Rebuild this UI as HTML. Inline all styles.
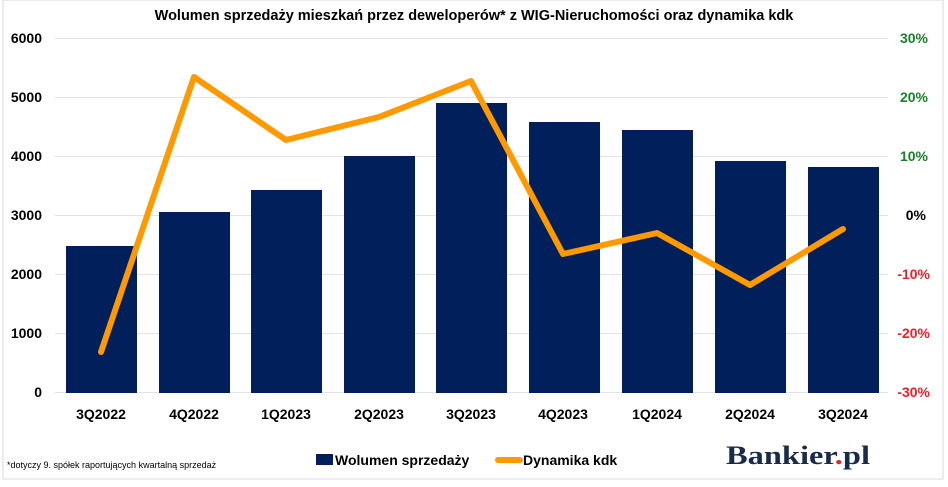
<!DOCTYPE html>
<html><head><meta charset="utf-8"><style>
body{margin:0;background:#fff;}
svg{display:block;font-family:"Liberation Sans",sans-serif;font-weight:bold;}
</style></head><body>
<svg width="948" height="487" viewBox="0 0 948 487">
<rect x="3" y="0" width="940" height="479" fill="#fff" stroke="#d9d9d9" stroke-width="1"/>
<text x="474" y="20" text-anchor="middle" font-size="14.5" fill="#000">Wolumen sprzedaży mieszkań przez deweloperów* z WIG-Nieruchomości oraz dynamika kdk</text>
<g stroke="#e3e3e3" stroke-width="1">
<line x1="55" x2="888" y1="38.5" y2="38.5"/><line x1="55" x2="888" y1="97.5" y2="97.5"/>
<line x1="55" x2="888" y1="156.5" y2="156.5"/><line x1="55" x2="888" y1="215.5" y2="215.5"/>
<line x1="55" x2="888" y1="274.5" y2="274.5"/><line x1="55" x2="888" y1="333.5" y2="333.5"/>
<line x1="55" x2="888" y1="392.5" y2="392.5"/>
</g>
<g font-size="14" fill="#000" text-anchor="end">
<text x="42" y="43">6000</text><text x="42" y="102">5000</text><text x="42" y="161">4000</text>
<text x="42" y="220">3000</text><text x="42" y="279">2000</text><text x="42" y="338">1000</text><text x="42" y="397">0</text>
</g>
<g font-size="14" text-anchor="end">
<text x="928" y="43" fill="#1a7f2a">30%</text><text x="928" y="102" fill="#1a7f2a">20%</text>
<text x="928" y="161" fill="#1a7f2a">10%</text><text x="926" y="220" fill="#000">0%</text>
<text x="930" y="279" fill="#e8202a">-10%</text><text x="930" y="338" fill="#e8202a">-20%</text>
<text x="930" y="397" fill="#e8202a">-30%</text>
</g>
<g fill="#001f5b">
<rect x="66" y="246" width="71" height="147"/>
<rect x="159" y="212" width="71" height="181"/>
<rect x="251" y="190" width="71" height="203"/>
<rect x="344" y="156" width="71" height="237"/>
<rect x="436" y="103" width="71" height="290"/>
<rect x="529" y="122" width="71" height="271"/>
<rect x="622" y="130" width="71" height="263"/>
<rect x="715" y="161" width="71" height="232"/>
<rect x="808" y="167" width="71" height="226"/>
</g>
<polyline points="101,352 194,77 286,140 379,117 471,81 563,254 657,233 750,285 843,229" fill="none" stroke="#ff9900" stroke-width="6" stroke-linejoin="round" stroke-linecap="round"/>
<g font-size="14" fill="#000" text-anchor="middle">
<text x="101" y="419">3Q2022</text><text x="194" y="419">4Q2022</text><text x="286" y="419">1Q2023</text>
<text x="379" y="419">2Q2023</text><text x="471" y="419">3Q2023</text><text x="563" y="419">4Q2023</text>
<text x="657" y="419">1Q2024</text><text x="750" y="419">2Q2024</text><text x="843" y="419">3Q2024</text>
</g>
<rect x="316" y="454" width="17" height="11" fill="#001f5b"/>
<text x="335" y="465" font-size="14" fill="#000">Wolumen sprzedaży</text>
<line x1="498" x2="520" y1="460" y2="460" stroke="#ff9900" stroke-width="6" stroke-linecap="round"/>
<text x="523" y="465" font-size="14" fill="#000">Dynamika kdk</text>
<text x="7" y="468" font-size="9" font-weight="normal" fill="#000">*dotyczy 9. spółek raportujących kwartalną sprzedaż</text>
<text x="726" y="464" font-size="26" font-family="Liberation Serif,serif" fill="#1a2a4a" textLength="144" lengthAdjust="spacingAndGlyphs">Bankier<tspan fill="#e8202a">.</tspan>pl</text>
</svg>
</body></html>
